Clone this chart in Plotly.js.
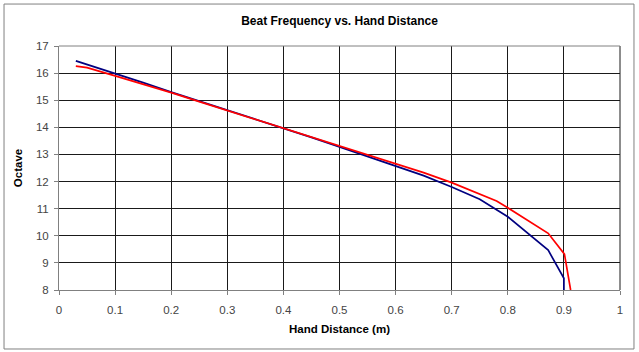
<!DOCTYPE html>
<html><head><meta charset="utf-8">
<script src="https://cdn.plot.ly/plotly-3.0.1.min.js"></script>
<style>body{margin:0;padding:0;background:#fff}#c{width:639px;height:352px}</style>
</head><body><div id="c"></div>
<script>
const blueX = [0.03,0.1,0.15,0.2,0.25,0.3,0.35,0.4,0.45,0.5,0.55,0.6,0.65,0.7,0.75,0.8,0.845,0.872,0.9,0.9];
const blueY = [16.45,16.0,15.65,15.3,14.97,14.64,14.3,13.96,13.63,13.28,12.93,12.58,12.22,11.8,11.35,10.7,9.94,9.47,8.43,8.0];
const redX = [0.03,0.05,0.1,0.15,0.2,0.25,0.3,0.35,0.4,0.45,0.5,0.55,0.6,0.65,0.7,0.75,0.78,0.8,0.872,0.901,0.912];
const redY = [16.26,16.2,15.9,15.6,15.28,14.95,14.62,14.3,13.96,13.63,13.3,12.97,12.65,12.33,11.96,11.55,11.28,11.03,10.09,9.32,8.0];
const xTicks = [0,0.1,0.2,0.3,0.4,0.5,0.6,0.7,0.8,0.9,1];
const yTicks = [8,9,10,11,12,13,14,15,16,17];

const traces = [
  {x: blueX, y: blueY, mode: 'lines', line: {color: '#000080', width: 1.7}, name: 'Blue'},
  {x: redX, y: redY, mode: 'lines', line: {color: '#ff0000', width: 1.7}, name: 'Red'}
];
const axisCommon = {
  showgrid: true, gridcolor: '#1a1a1a', gridwidth: 1,
  showline: true, linecolor: '#808080', linewidth: 1, mirror: false,
  ticks: 'outside', ticklen: 4, tickcolor: '#808080',
  tickfont: {family: 'Arial, Liberation Sans, sans-serif', size: 11.5, color: '#444'},
  zeroline: false, fixedrange: true
};
const layout = {
  width: 639, height: 352,
  margin: {l: 59, r: 19, t: 46, b: 62},
  paper_bgcolor: '#fff', plot_bgcolor: '#fff',
  showlegend: false,
  title: {text: '<b>Beat Frequency vs. Hand Distance</b>', x: 0.5, xref: 'paper', y: 0.952, yref: 'container',
          font: {family: 'Arial, Liberation Sans, sans-serif', size: 12, color: '#000'}},
  xaxis: Object.assign({}, axisCommon, {
    range: [0, 1], tickvals: xTicks, ticktext: xTicks.map(String), ticklabelstandoff: 5,
    title: {text: '<b>Hand Distance (m)</b>', standoff: 10, font: {family: 'Arial, Liberation Sans, sans-serif', size: 11.5, color: '#000'}}
  }),
  yaxis: Object.assign({}, axisCommon, {
    range: [8, 17], tickvals: yTicks, ticktext: yTicks.map(String), ticklabelstandoff: 3,
    title: {text: '<b>Octave</b>', standoff: 10, font: {family: 'Arial, Liberation Sans, sans-serif', size: 11.5, color: '#000'}}
  }),
  shapes: [
    {type: 'rect', xref: 'paper', yref: 'paper', x0: -0.098, x1: 1.0249, y0: -0.2418, y1: 1.172,
     line: {color: '#808080', width: 1}, fillcolor: 'rgba(0,0,0,0)', layer: 'below'},
    {type: 'line', xref: 'paper', yref: 'paper', x0: 1, x1: 1, y0: 0, y1: 1, line: {color: '#1a1a1a', width: 1}},
    {type: 'line', xref: 'paper', yref: 'paper', x0: 0, x1: 1, y0: 1, y1: 1, line: {color: '#808080', width: 1}}
  ]
};
Plotly.newPlot('c', traces, layout, {displayModeBar: false, staticPlot: true});
</script></body></html>
